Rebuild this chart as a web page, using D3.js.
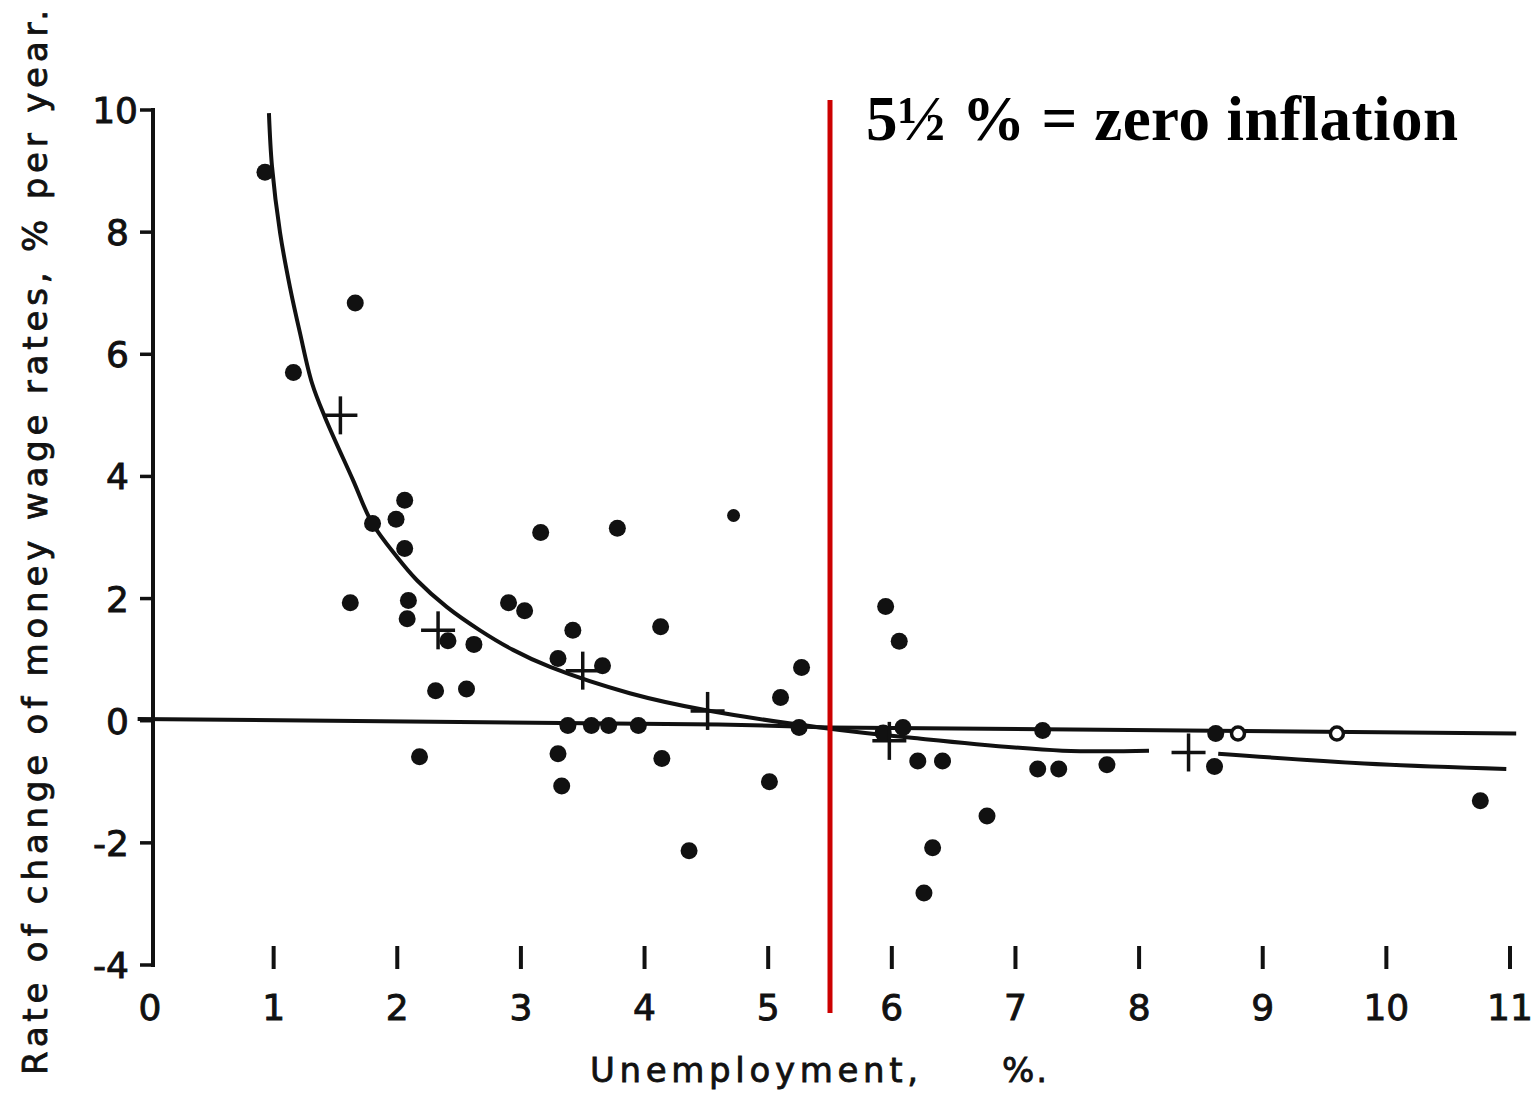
<!DOCTYPE html>
<html>
<head>
<meta charset="utf-8">
<script src="https://cdn.jsdelivr.net/npm/d3@7"></script>
<style>
  body { margin: 0; background: #fff; }
  svg { display: block; }
</style>
</head>
<body>
<div id="chart"></div>
<script>
var svgWidth = 1537;
var svgHeight = 1095;

// Observed annual points (unemployment %, wage change % per year)
var dotU = [0.93, 1.16, 1.66, 1.62, 1.80, 1.99, 2.06, 2.06, 2.09, 2.08, 2.18, 2.31, 2.41, 2.62, 2.56,
    2.90, 3.03, 3.16, 3.30, 3.42, 3.66, 3.78, 3.30, 3.33, 3.38, 3.57, 3.71, 3.95, 4.13, 4.14,
    4.36, 4.72, 5.01, 5.10, 5.27, 5.25, 5.95, 6.06, 6.09, 5.93, 6.21, 6.41, 6.33, 6.26, 6.77,
    7.22, 7.18, 7.35, 7.74, 8.62, 8.80, 8.61, 9.60, 10.76];
var dotV = [8.98, 5.70, 6.84, 1.93, 3.23, 3.30, 3.61, 2.82, 1.97, 1.67, -0.59, 0.49, 1.31, 1.25, 0.52,
    1.93, 1.80, 3.08, 1.02, 1.48, 0.90, 3.15, -0.54, -1.07, -0.08, -0.08, -0.08, -0.08, 1.54, -0.62,
    -2.13, 3.36, -1.00, 0.38, 0.87, -0.11, 1.87, 1.30, -0.11, -0.20, -0.66, -0.66, -2.08, -2.82, -1.56,
    -0.16, -0.79, -0.79, -0.72, -0.21, -0.21, -0.75, -0.21, -1.31];
// a few points are printed smaller (some with a white centre)
var smallDots = [31, 50, 52];
var hollowDots = [50, 52];

// Group averages drawn as crosses
var crossU = [1.54, 2.33, 3.50, 4.51, 5.98, 8.40];
var crossV = [5.00, 1.48, 0.82, 0.16, -0.33, -0.52];

// Fitted curve (drawn in two pieces)
var curveU1 = [0.962, 0.987, 1.052, 1.132, 1.213, 1.310, 1.415, 1.642, 1.796, 1.998, 2.159, 2.402,
    2.669, 2.936, 3.236, 3.88, 4.50, 5.42, 6.16, 7.38, 8.08];
var curveV1 = [9.95, 9.07, 7.99, 7.10, 6.35, 5.53, 4.97, 3.94, 3.24, 2.68, 2.30, 1.86,
    1.48, 1.16, 0.88, 0.45, 0.17, -0.11, -0.28, -0.49, -0.49];
var curveU2 = [8.64, 9.82, 10.97];
var curveV2 = [-0.54, -0.70, -0.79];

// Near-zero reference line
var zeroU = [-0.1, 4.6, 5.5, 11.05];
var zeroV = [0.03, -0.06, -0.11, -0.21];

var xTicks = [0, 1, 2, 3, 4, 5, 6, 7, 8, 9, 10, 11];
var yTicks = [10, 8, 6, 4, 2, 0, -2, -4];
var zeroInflation = 5.5;

var svg = d3.select("#chart")
    .append("svg")
    .attr("width", svgWidth)
    .attr("height", svgHeight)
    .style("background", "#fff");

var xScale = d3.scaleLinear().domain([0, 11]).range([150, 1510]);
var yScale = d3.scaleLinear().domain([-4, 10]).range([965, 110]);

var ink = "#111";
var axisFont = "'DejaVu Sans', sans-serif";

// y axis line with ticks to the left
svg.append("line")
    .attr("x1", xScale(0) + 3).attr("x2", xScale(0) + 3)
    .attr("y1", yScale(10) - 2).attr("y2", yScale(-4) + 2)
    .attr("stroke", ink).attr("stroke-width", 4);

svg.selectAll(".ytick")
    .data(yTicks)
    .enter()
    .append("line")
    .attr("class", "ytick")
    .attr("x1", xScale(0) - 10).attr("x2", xScale(0) + 3)
    .attr("y1", d => yScale(d)).attr("y2", d => yScale(d))
    .attr("stroke", ink).attr("stroke-width", 3.5);

svg.selectAll(".ylab")
    .data(yTicks)
    .enter()
    .append("text")
    .attr("class", "ylab")
    .attr("x", d => d === 10 ? 138 : 129)
    .attr("y", d => yScale(d) + 13)
    .attr("text-anchor", "end")
    .style("font-family", axisFont)
    .style("font-size", "36px")
    .attr("fill", ink)
    .attr("stroke", ink)
    .attr("stroke-width", 0.9)
    .text(d => d);

// x axis: floating tick marks only
svg.selectAll(".xtick")
    .data(xTicks.filter(d => d > 0))
    .enter()
    .append("line")
    .attr("class", "xtick")
    .attr("x1", d => xScale(d)).attr("x2", d => xScale(d))
    .attr("y1", 946).attr("y2", 969)
    .attr("stroke", ink).attr("stroke-width", 4);

svg.selectAll(".xlab")
    .data(xTicks)
    .enter()
    .append("text")
    .attr("class", "xlab")
    .attr("x", d => xScale(d))
    .attr("y", 1020)
    .attr("text-anchor", "middle")
    .style("font-family", axisFont)
    .style("font-size", "36px")
    .attr("fill", ink)
    .attr("stroke", ink)
    .attr("stroke-width", 0.9)
    .text(d => d);

// axis titles
svg.append("text")
    .attr("transform", "translate(47, 1075) rotate(-90)")
    .attr("textLength", 1065)
    .attr("lengthAdjust", "spacing")
    .style("font-family", axisFont)
    .style("font-size", "34px")
    .attr("fill", ink)
    .attr("stroke", ink)
    .attr("stroke-width", 0.8)
    .text("Rate of change of money wage rates, % per year.");

svg.append("text")
    .attr("x", 590)
    .attr("y", 1082)
    .attr("textLength", 328)
    .attr("lengthAdjust", "spacing")
    .style("font-family", axisFont)
    .style("font-size", "34px")
    .attr("fill", ink)
    .attr("stroke", ink)
    .attr("stroke-width", 0.8)
    .text("Unemployment,");

svg.append("text")
    .attr("x", 1002)
    .attr("y", 1082)
    .style("font-family", axisFont)
    .style("font-size", "34px")
    .style("letter-spacing", "2px")
    .attr("fill", ink)
    .attr("stroke", ink)
    .attr("stroke-width", 0.8)
    .text("%.");

// lines
var line = d3.line()
    .x(d => xScale(d[0]))
    .y(d => yScale(d[1]));

svg.append("path")
    .datum(d3.zip(zeroU, zeroV))
    .attr("d", line)
    .attr("fill", "none")
    .attr("stroke", ink)
    .attr("stroke-width", 4);

var smoothLine = d3.line()
    .x(d => xScale(d[0]))
    .y(d => yScale(d[1]))
    .curve(d3.curveCatmullRom.alpha(0.5));

svg.append("path")
    .datum(d3.zip(curveU1, curveV1))
    .attr("d", smoothLine)
    .attr("fill", "none")
    .attr("stroke", ink)
    .attr("stroke-width", 4);

svg.append("path")
    .datum(d3.zip(curveU2, curveV2))
    .attr("d", smoothLine)
    .attr("fill", "none")
    .attr("stroke", ink)
    .attr("stroke-width", 4);

// points
var dots = d3.zip(dotU, dotV).map((d, i) => ({
    u: d[0], v: d[1],
    small: smallDots.indexOf(i) >= 0,
    hollow: hollowDots.indexOf(i) >= 0
}));

svg.selectAll(".dot")
    .data(dots)
    .enter()
    .append("circle")
    .attr("class", "dot")
    .attr("cx", d => xScale(d.u))
    .attr("cy", d => yScale(d.v))
    .attr("r", d => d.small ? 6.5 : 8.5)
    .attr("fill", d => d.hollow ? "#fff" : ink)
    .attr("stroke", ink)
    .attr("stroke-width", d => d.hollow ? 3.5 : 0);

// crosses
var crosses = d3.zip(crossU, crossV);
var crossG = svg.selectAll(".cross")
    .data(crosses)
    .enter()
    .append("g")
    .attr("class", "cross")
    .attr("transform", d => `translate(${xScale(d[0])}, ${yScale(d[1])})`);

crossG.append("line")
    .attr("x1", -17).attr("x2", 17).attr("y1", 0).attr("y2", 0)
    .attr("stroke", ink).attr("stroke-width", 3.5);
crossG.append("line")
    .attr("x1", 0).attr("x2", 0).attr("y1", -19).attr("y2", 19)
    .attr("stroke", ink).attr("stroke-width", 3.5);

// red marker at 5.5 %
svg.append("line")
    .attr("x1", xScale(zeroInflation)).attr("x2", xScale(zeroInflation))
    .attr("y1", 100).attr("y2", 1013)
    .attr("stroke", "#cc0000")
    .attr("stroke-width", 5);

svg.append("text")
    .attr("x", 866)
    .attr("y", 140)
    .attr("textLength", 592)
    .attr("lengthAdjust", "spacing")
    .style("font-family", "'Liberation Serif', 'Times New Roman', serif")
    .style("font-weight", "bold")
    .style("font-size", "63px")
    .attr("fill", "#000")
    .text("5½ % = zero inflation");
</script>
</body>
</html>
